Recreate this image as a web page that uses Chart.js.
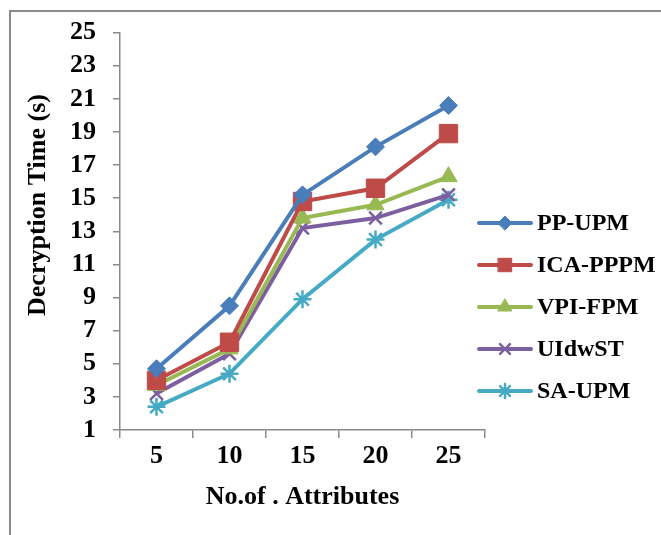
<!DOCTYPE html>
<html>
<head>
<meta charset="utf-8">
<script src="https://cdn.jsdelivr.net/npm/chart.js@4/dist/chart.umd.min.js"></script>
<style>
  html, body { margin: 0; padding: 0; background: #fff; }
  #wrap { position: relative; width: 661px; height: 535px; overflow: hidden; }
  #frame { position: absolute; left: 9px; top: 10px; width: 700px; height: 600px;
           border-top: 2px solid #8a8a8a; border-left: 2px solid #8a8a8a; }
  #chart { position: absolute; left: 0; top: 0; }
</style>
</head>
<body>
<div id="wrap">
  <div id="frame"></div>
  <canvas id="chart" width="661" height="535"></canvas>
</div>
<script>
// datos
var attributes = ['5', '10', '15', '20', '25'];
var ppUpm   = [4.7, 8.5, 15.2, 18.1, 20.6];
var icaPppm = [4.0, 6.3, 14.8, 15.6, 18.9];
var vpiFpm  = [3.7, 5.9, 13.8, 14.6, 16.3];
var uidwst  = [3.2, 5.6, 13.2, 13.8, 15.2];
var saUpm   = [2.4, 4.4, 8.9, 12.5, 14.9];
var yTicks  = [1, 3, 5, 7, 9, 11, 13, 15, 17, 19, 21, 23, 25];

var FONT = "'Liberation Serif', 'Times New Roman', serif";
var AXIS = '#898989';

function serie(label, data, color, style, radius, legendRadius) {
  return {
    label: label,
    data: data,
    borderColor: color,
    backgroundColor: color,
    borderWidth: 4,
    pointStyle: style,
    pointRadius: radius,
    pointHoverRadius: radius,
    pointBackgroundColor: color,
    pointBorderColor: color,
    pointBorderWidth: (style === 'crossRot' || style === 'star') ? 2.5 : 1,
    legendRadius: legendRadius,
    tension: 0
  };
}

// leyenda a la derecha + titulo del eje y
var sidePlugin = {
  id: 'sidePlugin',
  afterDraw: function(chart) {
    var ctx = chart.ctx;
    ctx.save();
    chart.data.datasets.forEach(function(ds, i) {
      var y = 223 + i * 42;
      ctx.strokeStyle = ds.borderColor;
      ctx.fillStyle = ds.borderColor;
      ctx.lineWidth = 4;
      ctx.lineCap = 'round';
      ctx.beginPath();
      ctx.moveTo(479, y);
      ctx.lineTo(531, y);
      ctx.stroke();
      if (Chart.helpers && Chart.helpers.drawPoint) {
        ctx.lineWidth = ds.pointBorderWidth;
        Chart.helpers.drawPoint(ctx, {
          pointStyle: ds.pointStyle,
          radius: ds.legendRadius,
          rotation: 0,
          borderWidth: ds.pointBorderWidth
        }, 505, y);
      }
      ctx.fillStyle = '#000';
      ctx.font = 'bold 24px ' + FONT;
      ctx.textAlign = 'left';
      ctx.textBaseline = 'middle';
      ctx.fillText(ds.label, 537, y + 1);
    });
    // titulo eje y
    ctx.translate(38, 205);
    ctx.rotate(-Math.PI / 2);
    ctx.fillStyle = '#000';
    ctx.font = 'bold 26px ' + FONT;
    ctx.textAlign = 'center';
    ctx.textBaseline = 'middle';
    ctx.fillText('Decryption Time (s)', 0, 0);
    ctx.restore();
  }
};

var config = {
  type: 'line',
  data: {
    labels: attributes,
    datasets: [
      serie('PP-UPM', ppUpm, '#4a7ebb', 'rectRot', 9, 7),
      serie('ICA-PPPM', icaPppm, '#be4b48', 'rect', 13, 9.5),
      serie('VPI-FPM', vpiFpm, '#98b954', 'triangle', 10, 8),
      serie('UIdwST', uidwst, '#7d5fa0', 'crossRot', 9, 7),
      serie('SA-UPM', saUpm, '#46aac5', 'star', 9, 7)
    ]
  },
  options: {
    responsive: false,
    animation: false,
    layout: { padding: { left: 0, right: 176, top: 30, bottom: 0 } },
    plugins: {
      legend: { display: false },
      tooltip: { enabled: false }
    },
    scales: {
      x: {
        offset: true,
        grid: { display: true, offset: true, drawOnChartArea: false, drawTicks: true,
                tickLength: 8, color: AXIS, lineWidth: 1.5 },
        border: { display: true, color: AXIS, width: 1.5 },
        ticks: { color: '#000', padding: 3, autoSkip: false,
                 font: { family: FONT, size: 26, weight: 'bold' } },
        title: { display: true, text: 'No.of . Attributes', color: '#000',
                 padding: { top: 0, bottom: 22 },
                 font: { family: FONT, size: 26, weight: 'bold' } },
        afterFit: function(scale) { scale.height = 105; }
      },
      y: {
        min: 1,
        max: 25,
        afterBuildTicks: function(scale) {
          scale.ticks = yTicks.map(function(v) { return { value: v }; });
        },
        grid: { display: true, drawOnChartArea: false, drawTicks: true,
                tickLength: 7, color: AXIS, lineWidth: 1.5 },
        border: { display: true, color: AXIS, width: 1.5 },
        ticks: { color: '#000', padding: 17, autoSkip: false,
                 font: { family: FONT, size: 26, weight: 'bold' } },
        afterFit: function(scale) { scale.width = 120; }
      }
    }
  },
  plugins: [sidePlugin]
};

var ctx = document.getElementById('chart').getContext('2d');
window.grafico = new Chart(ctx, config);
</script>
</body>
</html>
